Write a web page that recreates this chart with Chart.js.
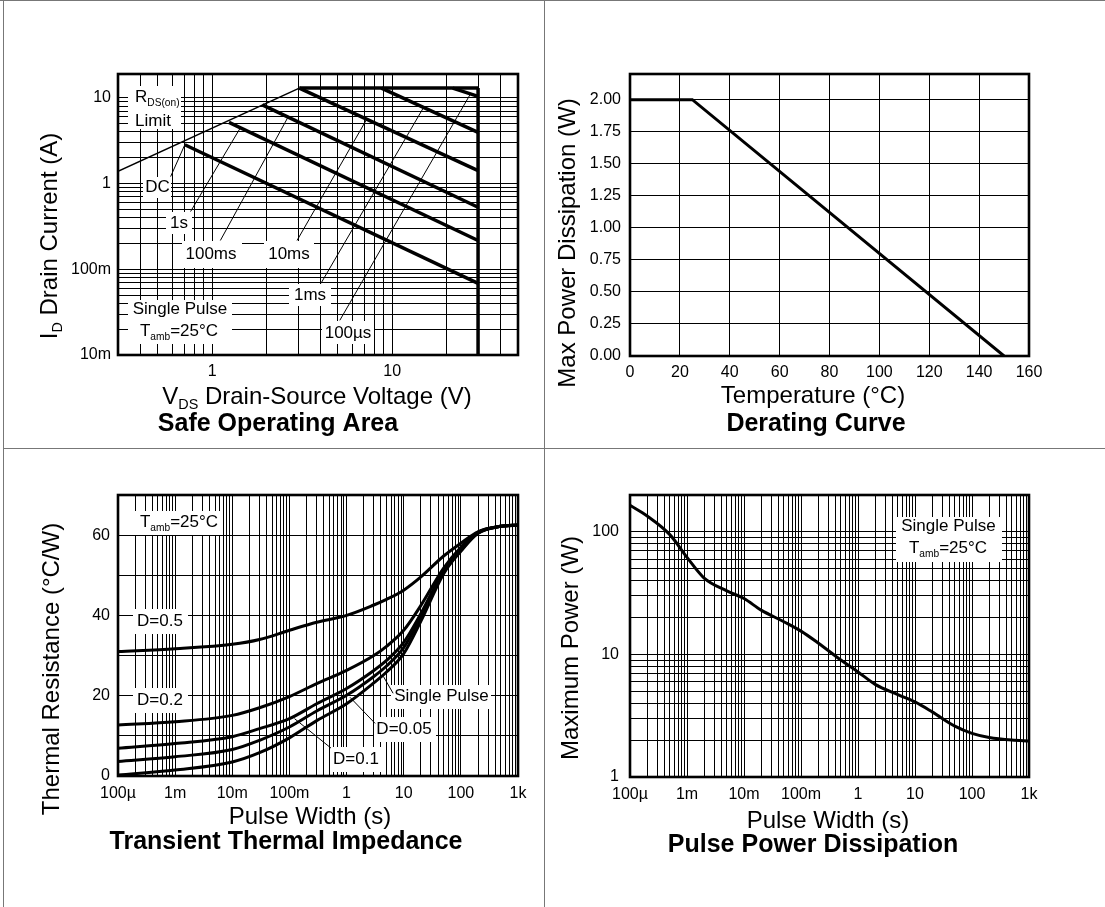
<!DOCTYPE html>
<html><head><meta charset="utf-8">
<script src="https://cdn.jsdelivr.net/npm/chart.js@4"></script>
<style>
body{margin:0;background:#fff;width:1105px;height:907px;position:relative;overflow:hidden}
.w{position:absolute}
.ln{position:absolute;background:#777}
</style></head><body>
<div class="w" style="left:4px;top:1px;width:540px;height:447px"><canvas id="c1"></canvas></div>
<div class="w" style="left:545px;top:1px;width:560px;height:447px"><canvas id="c2"></canvas></div>
<div class="w" style="left:4px;top:449px;width:540px;height:458px"><canvas id="c3"></canvas></div>
<div class="w" style="left:545px;top:449px;width:560px;height:458px"><canvas id="c4"></canvas></div>
<div class="ln" style="left:3px;top:0;width:1px;height:907px"></div>
<div class="ln" style="left:0;top:0;width:1105px;height:1px"></div>
<div class="ln" style="left:544px;top:0;width:1px;height:907px"></div>
<div class="ln" style="left:3px;top:448px;width:1102px;height:1px"></div>
<script>
// ---------- DATA ----------
// Safe Operating Area (V, A)
const soaRdsLimit   = [[0.3, 1.39], [3.05, 13]];
const soaCurrentMax = [[3.05, 13], [30, 13]];
const soaVoltageMax = [[30, 13], [30, 0.01]];
const soaDC    = [[0.705, 2.84], [30, 0.0686]];
const soa1s    = [[1.24, 5.17], [30, 0.217]];
const soa100ms = [[1.90, 8.3], [30, 0.53]];
const soa10ms  = [[3.05, 13], [30, 1.42]];
const soa1ms   = [[8.71, 13], [30, 3.96]];
const soa100us = [[21.7, 13], [30, 10.4]];
const soaLeaderDC    = [[0.588, 1.206], [0.705, 2.84]];
const soaLeader1s    = [[0.759, 0.472], [1.434, 4.47]];
const soaLeader100ms = [[1.111, 0.217], [2.64, 5.97]];
const soaLeader10ms  = [[2.963, 0.217], [7.22, 5.63]];
const soaLeader1ms   = [[4.02, 0.0685], [14.94, 7.73]];
const soaLeader100us = [[5.12, 0.0254], [27.2, 11.1]];
const soaXTicks = [1, 10];
const soaXTickText = ['1', '10'];
const soaYTicks = [0.01, 0.1, 1, 10];
const soaYTickText = ['10m', '100m', '1', '10'];

// Derating curve (°C, W)
const derTemp  = [0, 25, 150];
const derPower = [2.0, 2.0, 0.0];
const derXTicks = [0, 20, 40, 60, 80, 100, 120, 140, 160];
const derYTicks = [0, 0.25, 0.5, 0.75, 1.0, 1.25, 1.5, 1.75, 2.0];
const derYTickText = ['0.00', '0.25', '0.50', '0.75', '1.00', '1.25', '1.50', '1.75', '2.00'];

// Transient thermal impedance (s, °C/W)
const tzTime   = [1e-4, 1e-3, 1e-2, 3e-2, 0.1, 0.3, 1, 3, 5, 10, 20, 50, 100, 200, 500, 1000];
const tzD05    = [31.0, 31.7, 32.8, 34.0, 36.3, 38.3, 40.0, 42.6, 44.0, 46.3, 49.6, 54.8, 58.0, 60.8, 62.2, 62.5];
const tzD02    = [12.7, 13.5, 15.1, 17.0, 19.8, 23.0, 26.3, 30.0, 32.3, 36.3, 42.5, 51.8, 57.0, 60.8, 62.2, 62.5];
const tzD01    = [6.9, 8.1, 9.8, 11.8, 14.3, 18.0, 21.8, 26.3, 28.8, 33.3, 40.5, 51.2, 56.6, 60.6, 62.2, 62.5];
const tzD005   = [3.6, 4.8, 6.6, 8.9, 12.2, 16.2, 20.1, 24.8, 27.4, 32.0, 39.6, 50.8, 56.3, 60.5, 62.2, 62.5];
const tzSingle = [0.25, 1.5, 3.5, 5.8, 9.5, 13.8, 18.0, 23.2, 25.9, 30.5, 38.6, 50.4, 56.0, 60.5, 62.2, 62.5];
const tzLeaderSingle = [[4.41, 24.8], [6.52, 20.6]];
const tzLeader005    = [[1.15, 19.6], [3.16, 13.1]];
const tzLeader01     = [[0.1225, 14.3], [0.534, 6.95]];
const pwXTicks = [1e-4, 1e-3, 1e-2, 0.1, 1, 10, 100, 1000];
const pwXTickText = ['100µ', '1m', '10m', '100m', '1', '10', '100', '1k'];
const tzYTicks = [0, 20, 40, 60];

// Pulse power dissipation (s, W)
const ppTime  = [1e-4, 2e-4, 5e-4, 1e-3, 2e-3, 5e-3, 1e-2, 2e-2, 5e-2, 0.1, 0.2, 0.5, 1, 2, 5, 10, 20, 50, 100, 200, 500, 1000];
const ppPower = [165, 135, 95, 62, 42, 33, 28.6, 23, 18.5, 15.5, 12.4, 9.0, 7.2, 5.7, 4.7, 4.1, 3.4, 2.6, 2.27, 2.1, 2.0, 1.97];
const ppYTicks = [1, 10, 100];
const ppYTickText = ['1', '10', '100'];

// ---------- HELPERS ----------
const FONT = '"Liberation Sans", Arial, Helvetica, sans-serif';
const TICK = 16;
function logGrid(min, max) {
  const out = [];
  for (let e = Math.floor(Math.log10(min)); e <= Math.ceil(Math.log10(max)); e++) {
    for (let m = 1; m < 10; m++) {
      const v = +(m * Math.pow(10, e)).toPrecision(6);
      if (v >= min * (1 - 1e-9) && v <= max * (1 + 1e-9)) out.push(v);
    }
  }
  return out;
}
function labelFor(v, vals, texts) {
  for (let i = 0; i < vals.length; i++) {
    const a = vals[i];
    if (a === 0 ? Math.abs(v) < 1e-9 : Math.abs(v / a - 1) < 1e-6) return texts[i];
  }
  return '';
}
function grid() { return {color: '#000', lineWidth: 1, drawTicks: false}; }
function tickOpts(pad, cb) {
  return {autoSkip: false, maxRotation: 0, padding: pad, color: '#000', font: {family: FONT, size: TICK}, callback: cb};
}
function logAxis(min, max, vals, texts, pad, fitFn) {
  return {type: 'logarithmic', min, max,
    afterBuildTicks: s => { s.ticks = logGrid(min, max).map(v => ({value: v})); },
    afterFit: fitFn, ticks: tickOpts(pad, v => labelFor(v, vals, texts)),
    grid: grid(), border: {display: false}};
}
function line(points, width, smooth) {
  return {data: points.map(p => ({x: p[0], y: p[1]})), borderColor: '#000', borderWidth: width,
    pointRadius: 0, showLine: true, fill: false, tension: smooth ? 0.4 : 0,
    cubicInterpolationMode: smooth ? 'monotone' : 'default', borderCapStyle: 'butt'};
}
function zip(xs, ys) { return xs.map((x, i) => [x, ys[i]]); }

// ---------- LAYOUT / TEXT ----------
const SHEET = {
  c1: {ox: 4, oy: 1,
    boxes: [[128,86,181,129],[143,177,171,198],[166,212,192,234],[182,241,242,268],[264,241,314,268],[289,284,331,306],[322,321,374,344],[128,300,232,344]],
    texts: [
      {p: [['I',0],['D',1],[' Drain Current (A)',0]], x: 50, y: 236, s: 24, rot: true},
      {p: [['V',0],['DS',1],[' Drain-Source Voltage (V)',0]], x: 317, y: 397, s: 24},
      {p: [['Safe Operating Area',0]], x: 278, y: 424, s: 25, b: true},
      {p: [['R',0],['DS(on)',1]], x: 135, y: 97, s: 17, left: true},
      {p: [['Limit',0]], x: 135, y: 121.5, s: 17, left: true},
      {p: [['DC',0]], x: 157.5, y: 187.5, s: 17},
      {p: [['1s',0]], x: 179, y: 223, s: 17},
      {p: [['100ms',0]], x: 211, y: 254, s: 17},
      {p: [['10ms',0]], x: 289, y: 254.5, s: 17},
      {p: [['1ms',0]], x: 310, y: 295, s: 17},
      {p: [['100µs',0]], x: 348, y: 333, s: 17},
      {p: [['Single Pulse',0]], x: 180, y: 309.5, s: 17},
      {p: [['T',0],['amb',1],['=25°C',0]], x: 179, y: 331.5, s: 17}
    ]},
  c2: {ox: 545, oy: 1, boxes: [],
    texts: [
      {p: [['Max Power Dissipation (W)',0]], x: 568, y: 243, s: 24, rot: true},
      {p: [['Temperature (°C)',0]], x: 813, y: 396, s: 24},
      {p: [['Derating Curve',0]], x: 816, y: 424, s: 25, b: true}
    ]},
  c3: {ox: 4, oy: 449,
    boxes: [[135,511,222,535],[133,609,188,634],[133,688,188,713],[391,685,491,709],[374,717,436,742],[330,747,382,772]],
    texts: [
      {p: [['Thermal Resistance (°C/W)',0]], x: 52, y: 669, s: 24, rot: true},
      {p: [['Pulse Width (s)',0]], x: 310, y: 817, s: 24},
      {p: [['Transient Thermal Impedance',0]], x: 286, y: 842, s: 25, b: true},
      {p: [['T',0],['amb',1],['=25°C',0]], x: 179, y: 522.5, s: 17},
      {p: [['D=0.5',0]], x: 160, y: 621.5, s: 17},
      {p: [['D=0.2',0]], x: 160, y: 700.5, s: 17},
      {p: [['Single Pulse',0]], x: 441.5, y: 696.5, s: 17},
      {p: [['D=0.05',0]], x: 404, y: 729.5, s: 17},
      {p: [['D=0.1',0]], x: 356, y: 759.5, s: 17}
    ]},
  c4: {ox: 545, oy: 449,
    boxes: [[896,517,1002,562]],
    texts: [
      {p: [['Maximum Power (W)',0]], x: 571, y: 648, s: 24, rot: true},
      {p: [['Pulse Width (s)',0]], x: 828, y: 821, s: 24},
      {p: [['Pulse Power Dissipation',0]], x: 813, y: 845, s: 25, b: true},
      {p: [['Single Pulse',0]], x: 948.5, y: 526, s: 17},
      {p: [['T',0],['amb',1],['=25°C',0]], x: 948, y: 548.5, s: 17}
    ]}
};
function fontStr(size, bold) { return (bold ? 'bold ' : '') + size + 'px ' + FONT; }
function drawRich(ctx, t, ox, oy) {
  const sub = t.s * 0.6;
  let w = 0;
  for (const q of t.p) { ctx.font = fontStr(q[1] ? sub : t.s, t.b); w += ctx.measureText(q[0]).width; }
  ctx.save();
  ctx.translate(t.x - ox, t.y - oy);
  if (t.rot) ctx.rotate(-Math.PI / 2);
  ctx.textAlign = 'left'; ctx.textBaseline = 'middle'; ctx.fillStyle = '#000';
  let x = t.left ? 0 : -w / 2;
  for (const q of t.p) {
    ctx.font = fontStr(q[1] ? sub : t.s, t.b);
    ctx.fillText(q[0], x, q[1] ? t.s * 0.34 : 0);
    x += ctx.measureText(q[0]).width;
  }
  ctx.restore();
}
const sheetPlugin = {
  id: 'sheet',
  beforeDatasetsDraw(chart) {
    const c = SHEET[chart.canvas.id], ctx = chart.ctx;
    ctx.save(); ctx.fillStyle = '#fff';
    for (const b of c.boxes) ctx.fillRect(b[0] - c.ox, b[1] - c.oy, b[2] - b[0], b[3] - b[1]);
    ctx.restore();
  },
  afterDatasetsDraw(chart) {
    const c = SHEET[chart.canvas.id], ctx = chart.ctx, a = chart.chartArea;
    ctx.save(); ctx.strokeStyle = '#000'; ctx.lineWidth = 2.6;
    ctx.strokeRect(a.left, a.top, a.right - a.left, a.bottom - a.top);
    ctx.restore();
    for (const t of c.texts) drawRich(ctx, t, c.ox, c.oy);
  }
};
function makeChart(id, datasets, scales, padTop, padRight) {
  return new Chart(document.getElementById(id), {
    type: 'scatter', data: {datasets},
    options: {animation: false, responsive: true, maintainAspectRatio: false,
      layout: {padding: {left: 0, top: padTop, right: padRight, bottom: 0}},
      plugins: {legend: {display: false}, tooltip: {enabled: false}},
      scales},
    plugins: [sheetPlugin]});
}

// ---------- CHART 1: SOA ----------
makeChart('c1', [
  line(soaRdsLimit, 1.5), line(soaCurrentMax, 3.5), line(soaVoltageMax, 3.5),
  line(soaDC, 3.5), line(soa1s, 3.5), line(soa100ms, 3.5), line(soa10ms, 3.5), line(soa1ms, 3.5), line(soa100us, 3.5),
  line(soaLeaderDC, 1), line(soaLeader1s, 1), line(soaLeader100ms, 1), line(soaLeader10ms, 1), line(soaLeader1ms, 1), line(soaLeader100us, 1)
], {
  x: logAxis(0.3, 50, soaXTicks, soaXTickText, 7, s => { s.height = 93; }),
  y: logAxis(0.01, 19, soaYTicks, soaYTickText, 7, s => { s.width = 114; })
}, 73, 26);

// ---------- CHART 2: Derating ----------
makeChart('c2', [line(zip(derTemp, derPower), 3)], {
  x: {type: 'linear', min: 0, max: 160, afterBuildTicks: s => { s.ticks = derXTicks.map(v => ({value: v})); },
      afterFit: s => { s.height = 92; }, ticks: tickOpts(7, v => String(v)), grid: grid(), border: {display: false}},
  y: {type: 'linear', min: 0, max: 2.2, afterBuildTicks: s => { s.ticks = derYTicks.map(v => ({value: v})); },
      afterFit: s => { s.width = 85; }, ticks: tickOpts(9, v => labelFor(v, derYTicks, derYTickText)), grid: grid(), border: {display: false}}
}, 73, 76);

// ---------- CHART 3: Transient thermal impedance ----------
makeChart('c3', [
  line(zip(tzTime, tzD05), 3, true), line(zip(tzTime, tzD02), 3, true), line(zip(tzTime, tzD01), 3, true),
  line(zip(tzTime, tzD005), 3, true), line(zip(tzTime, tzSingle), 3, true),
  line(tzLeaderSingle, 1), line(tzLeader005, 1), line(tzLeader01, 1)
], {
  x: logAxis(1e-4, 1000, pwXTicks, pwXTickText, 8, s => { s.height = 131; }),
  y: {type: 'linear', min: 0, max: 70, ticks: Object.assign(tickOpts(8, v => labelFor(v, tzYTicks, tzYTicks.map(String))), {stepSize: 10}),
      afterFit: s => { s.width = 114; }, grid: grid(), border: {display: false}}
}, 46, 26);

// ---------- CHART 4: Pulse power ----------
makeChart('c4', [line(zip(ppTime, ppPower), 3, true)], {
  x: logAxis(1e-4, 1000, pwXTicks, pwXTickText, 8, s => { s.height = 130; }),
  y: logAxis(1, 200, ppYTicks, ppYTickText, 11, s => { s.width = 85; })
}, 46, 76);
</script>
</body></html>
